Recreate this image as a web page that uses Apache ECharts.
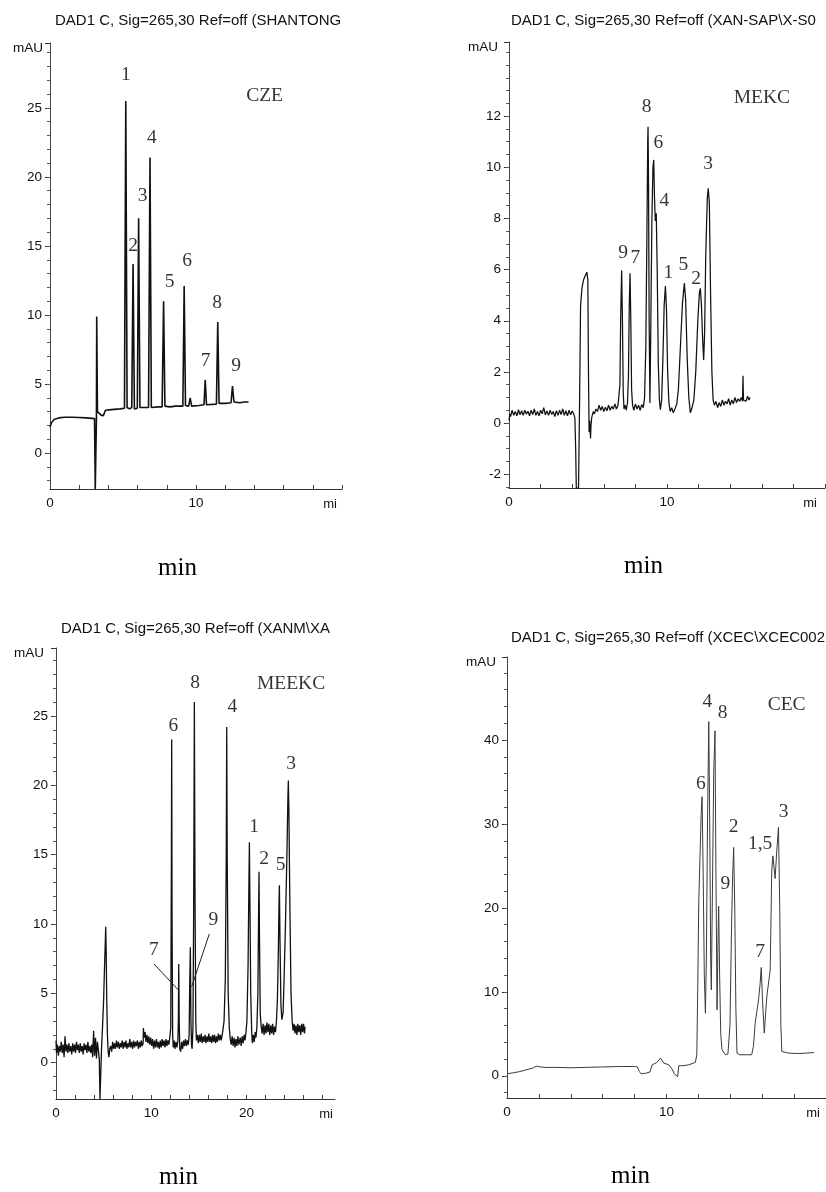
<!DOCTYPE html>
<html>
<head>
<meta charset="utf-8">
<title>DAD1 C, Sig=265,30</title>
<style>
  body { margin:0; background:#fff; }
  #main { width:826px; height:1192px; }
</style>
</head>
<body>
<div id="main"></div>
<script src="https://cdn.jsdelivr.net/npm/echarts@6/dist/echarts.min.js"></script>
<script>
// ---- data (time in min, signal in mAU) ----
var czeTrace = [[0,1.9],[0.1,2.2],[0.3,2.45],[0.6,2.55],[1,2.6],[1.5,2.6],[2,2.58],[2.5,2.55],[3.05,2.5],[3.1,-2.6],[3.15,-2.6],[3.18,2.5],
  [3.2,9.9],[3.25,3.0],[3.35,3.1],[3.5,2.75],[3.65,2.7],[3.8,3.1],[4.2,3.15],[4.8,3.2],[5.1,3.25],[5.19,25.5],[5.28,3.3],[5.45,3.2],
  [5.6,3.3],[5.69,13.7],[5.78,3.2],[5.98,3.25],[6.07,17.0],[6.16,3.3],[6.75,3.3],[6.85,21.4],[6.94,3.3],[7.4,3.35],[7.68,3.35],
  [7.78,11.0],[7.87,3.4],[8.2,3.35],[8.6,3.4],[9.1,3.4],[9.19,12.1],[9.28,3.45],[9.5,3.4],[9.6,4.0],[9.7,3.4],[10.2,3.45],[10.55,3.5],
  [10.63,5.3],[10.72,3.5],[11.4,3.55],[11.49,9.5],[11.58,3.6],[12.0,3.6],[12.4,3.65],[12.5,4.85],[12.6,3.7],[13.0,3.65],[13.3,3.7],[13.6,3.7]];
var czeLabels = [['1',5.2,27.4],['2',5.7,15.0],['3',6.35,18.6],['4',6.97,22.8],['5',8.2,12.4],['6',9.4,13.9],['7',10.66,6.7],['8',11.45,10.9],['9',12.75,6.3],['CZE',14.7,25.9]];

var mekcTrace = [[0,0.1],[0.05,0.35],[0.1,0.25],[0.2,0.5],[0.3,0.3],[0.4,0.45],[0.5,0.28],[0.6,0.52],[0.7,0.32],[0.8,0.48],[0.9,0.3],
  [1.0,0.5],[1.1,0.35],[1.2,0.46],[1.3,0.28],[1.4,0.5],[1.5,0.33],[1.6,0.55],[1.7,0.3],[1.8,0.45],[1.9,0.28],[2.0,0.5],[2.1,0.36],
  [2.2,0.6],[2.3,0.32],[2.4,0.47],[2.5,0.3],[2.6,0.5],[2.7,0.34],[2.8,0.45],[2.9,0.25],[3.0,0.48],[3.1,0.3],[3.2,0.5],[3.3,0.33],
  [3.4,0.55],[3.5,0.3],[3.6,0.48],[3.7,0.28],[3.8,0.5],[3.9,0.32],[4.0,0.47],[4.1,0.35],[4.17,0.2],[4.22,-1],[4.26,-2.54],[4.4,-2.54],
  [4.47,1],[4.53,4.6],[4.62,5.3],[4.72,5.6],[4.85,5.8],[4.93,5.9],[4.99,5.6],[5.03,2],[5.07,-0.35],[5.1,0.1],[5.13,-0.3],[5.16,-0.6],
  [5.19,-0.1],[5.23,0.2],[5.28,0.25],[5.33,0.45],[5.4,0.35],[5.5,0.55],[5.6,0.45],[5.7,0.7],[5.8,0.5],[5.9,0.65],[6.0,0.45],[6.1,0.62],
  [6.2,0.48],[6.3,0.7],[6.4,0.5],[6.5,0.65],[6.6,0.55],[6.7,0.75],[6.8,0.55],[6.9,0.7],[6.97,0.65],
  [7.02,1.5],[7.07,4.2],[7.13,5.96],[7.18,4.0],[7.23,1.2],[7.28,0.55],[7.35,0.7],[7.42,0.5],[7.5,0.8],
  [7.56,1.8],[7.61,4.5],[7.66,5.86],[7.71,4.0],[7.76,1.3],[7.82,0.7],[7.9,0.5],[8.0,0.75],[8.1,0.55],[8.2,0.7],[8.3,0.5],[8.4,0.72],[8.5,0.6],
  [8.58,1.0],[8.66,3.0],[8.73,7.5],[8.78,11.0],[8.80,11.59],[8.83,9.5],[8.87,4],[8.92,0.78],[8.97,3.5],[9.04,7.8],[9.11,10.0],[9.16,10.29],
  [9.21,8.8],[9.26,7.9],[9.32,8.2],[9.38,6.0],[9.45,2.3],[9.52,0.9],[9.58,0.52],
  [9.66,0.9],[9.74,2.5],[9.82,4.6],[9.9,5.36],[9.97,4.4],[10.04,2.0],[10.12,0.8],[10.2,0.45],[10.3,0.6],[10.4,0.4],[10.5,0.55],[10.62,0.75],
  [10.72,1.3],[10.85,3.0],[10.98,4.7],[11.1,5.47],[11.18,4.8],[11.28,2.5],[11.38,1.0],[11.48,0.4],[11.58,0.6],[11.7,0.9],
  [11.82,2.0],[11.95,4.0],[12.05,5.1],[12.11,5.27],[12.18,4.6],[12.26,3.2],[12.32,2.47],[12.38,3.5],[12.45,6.5],[12.55,8.8],[12.61,9.18],
  [12.68,8.6],[12.76,5.0],[12.84,2.0],[12.92,0.9],[13.0,0.7],[13.1,0.85],[13.2,0.6],[13.3,0.8],[13.4,0.65],[13.5,0.9],[13.6,0.7],
  [13.7,0.85],[13.8,0.75],[13.9,0.95],[14.0,0.7],[14.1,0.9],[14.2,0.75],[14.3,1.0],[14.4,0.8],[14.5,0.95],[14.6,0.85],[14.7,1.0],
  [14.78,0.85],[14.81,1.85],[14.84,0.9],[14.9,0.95],[15.0,0.85],[15.1,1.05],[15.2,0.9],[15.25,1.0]];
var mekcLabels = [['8',8.71,12.37],['6',9.45,10.94],['4',9.83,8.7],['9',7.23,6.64],['7',8.0,6.45],['1',10.08,5.86],['5',11.03,6.18],['2',11.84,5.64],['3',12.61,10.13],['MEKC',16.0,12.73]];

var meekcTrace = [[0,1.6],[0.05,0.7],[0.15,1.3],[0.25,0.5],[0.35,1.2],[0.45,0.8],[0.55,1.5],[0.65,0.7],[0.75,1.3],[0.85,0.4],[0.95,1.9],
  [1.05,0.8],[1.15,1.3],[1.25,0.7],[1.35,1.4],[1.45,0.8],[1.55,1.2],[1.65,0.6],[1.75,1.4],[1.85,0.8],[1.95,1.3],[2.05,0.7],[2.15,1.5],
  [2.25,0.9],[2.35,1.3],[2.45,0.7],[2.55,1.4],[2.65,0.8],[2.75,1.2],[2.85,0.6],[2.95,1.4],[3.05,0.9],[3.15,1.3],[3.25,0.7],[3.35,1.5],
  [3.45,0.8],[3.55,1.2],[3.65,0.7],[3.75,1.3],[3.85,0.4],[3.95,2.3],[4.05,0.5],[4.15,1.8],[4.25,0.3],[4.35,1.5],[4.45,0.9],[4.55,0.2],
  [4.62,-2.62],[4.7,-2.62],[4.78,1.0],[4.88,2.5],[5.0,4.5],[5.1,7.0],[5.17,8.5],[5.22,9.8],[5.27,8.0],[5.33,4.5],[5.4,2.0],[5.48,0.8],
  [5.55,0.4],[5.65,1.0],[5.75,1.2],[5.85,0.8],[5.95,1.5],[6.05,1.0],[6.15,1.4],[6.25,1.0],[6.35,1.6],[6.45,1.1],[6.55,1.5],[6.65,1.0],
  [6.75,1.4],[6.85,1.1],[6.95,1.6],[7.05,1.0],[7.15,1.5],[7.25,1.1],[7.35,1.6],[7.45,1.0],[7.55,1.4],[7.65,1.1],[7.75,1.7],[7.85,1.1],
  [7.95,1.5],[8.05,1.0],[8.15,1.6],[8.25,1.1],[8.35,1.5],[8.45,1.2],[8.55,1.6],[8.65,1.0],[8.75,1.5],[8.85,1.1],[8.95,1.6],[9.05,1.2],
  [9.15,1.4],[9.18,2.5],[9.25,1.8],[9.35,2.2],[9.45,1.5],[9.55,2.0],[9.65,1.4],[9.75,1.9],[9.85,1.3],[9.95,1.8],[10.05,1.2],[10.15,1.7],
  [10.25,1.0],[10.35,1.6],[10.45,1.1],[10.55,1.7],[10.65,1.1],[10.75,1.5],[10.85,1.0],[10.95,1.6],[11.05,1.1],[11.15,1.7],[11.25,1.2],
  [11.35,1.6],[11.45,1.1],[11.55,1.7],[11.65,1.2],[11.75,1.6],[11.85,1.3],[11.95,1.8],
  [12.05,2.5],[12.12,15],[12.15,23.3],[12.19,10],[12.25,2.0],[12.32,1.1],[12.4,1.6],[12.5,1.0],[12.6,1.5],[12.7,1.1],[12.8,1.6],
  [12.85,3],[12.89,7.12],[12.94,3],[13.0,1.0],[13.1,0.8],[13.2,1.5],[13.3,1.0],[13.4,1.6],[13.5,1.2],[13.6,1.7],[13.7,1.2],[13.8,1.6],
  [13.9,1.3],[13.98,2.0],[14.05,6],[14.11,8.32],[14.17,3],[14.24,1.2],[14.3,1.0],[14.38,2.5],[14.45,10],[14.53,26.0],[14.6,12],[14.68,3],
  [14.75,1.6],[14.85,2.0],[14.95,1.4],[15.05,2.0],[15.15,1.5],[15.25,2.1],[15.35,1.4],[15.45,1.9],[15.55,1.5],[15.65,2.0],[15.75,1.4],
  [15.85,1.9],[15.95,1.5],[16.05,2.1],[16.15,1.5],[16.25,1.9],[16.35,1.4],[16.45,2.0],[16.55,1.5],[16.65,2.0],[16.75,1.4],[16.85,1.9],
  [16.95,1.5],[17.05,2.1],[17.15,1.6],[17.25,2.0],[17.35,1.6],[17.5,2.2],[17.65,3.0],[17.78,6],[17.88,15],[17.93,24.2],[17.98,15],
  [18.08,5],[18.2,2.5],[18.3,1.7],[18.4,1.3],[18.5,1.9],[18.6,1.2],[18.7,1.8],[18.8,1.1],[18.9,1.7],[19.0,1.2],[19.1,1.9],[19.2,1.3],
  [19.35,1.8],[19.45,1.2],[19.55,1.9],[19.65,1.4],[19.75,2.0],[19.85,1.6],[19.95,2.2],[20.05,3],[20.17,7],[20.26,13],[20.31,15.9],
  [20.36,12],[20.45,5],[20.55,2.3],[20.62,1.4],[20.72,2.0],[20.82,1.5],[20.92,2.2],[21.0,1.8],[21.1,2.6],[21.2,5],[21.28,11],[21.32,13.76],
  [21.37,9],[21.45,3.5],[21.55,2.6],[21.65,2.1],[21.75,2.8],[21.85,2.0],[21.95,2.7],[22.05,2.1],[22.15,2.9],[22.25,2.2],[22.35,2.8],
  [22.45,2.0],[22.55,2.7],[22.65,2.1],[22.75,2.8],[22.85,2.0],[22.95,2.6],[23.05,2.2],[23.15,3.0],[23.25,4.5],[23.35,8],[23.42,11.5],
  [23.46,12.8],[23.52,9],[23.62,4.2],[23.72,3.1],[23.77,2.96],[23.85,3.6],[23.95,6],[24.1,10],[24.25,15],[24.35,19],[24.4,20.35],
  [24.46,18],[24.55,12],[24.68,5],[24.8,3.0],[24.9,2.3],[25.0,2.8],[25.1,2.1],[25.2,2.7],[25.3,2.0],[25.4,2.8],[25.5,2.2],[25.6,2.7],
  [25.7,2.0],[25.8,2.8],[25.9,2.2],[26.0,2.8],[26.1,2.1],[26.15,2.6]];
var meekcLabels = [['6',12.32,24.27],['8',14.6,27.4],['4',18.52,25.67],['3',24.68,21.54],['1',20.8,17.0],['2',21.85,14.67],['5',23.6,14.23],
  ['7',10.29,8.13],['9',16.52,10.29],['MEEKC',24.68,27.34]];
var meekcLeader7 = [[10.29,7.12],[12.85,5.24]];
var meekcLeader9 = [[16.1,9.28],[14.25,5.48]];

var cecTrace = [[0,0.24],[0.4,0.35],[0.8,0.5],[1.19,0.7],[1.6,0.9],[1.85,1.15],[1.95,1.2],[2.1,1.05],[2.46,0.99],[3,1.0],[4,0.95],[5,1.0],
  [6,1.05],[7,1.1],[8,1.1],[8.17,1.05],[8.3,0.5],[8.4,0.24],[8.7,0.3],[8.96,0.45],[9.1,1.3],[9.21,1.5],[9.4,1.6],[9.63,2.1],[9.83,1.5],
  [10.0,1.4],[10.15,1.3],[10.35,0.8],[10.5,0.2],[10.6,0.0],[10.7,-0.1],[10.74,0.1],[10.77,1.2],[11.0,1.2],[11.4,1.3],[11.81,1.6],
  [11.9,2.5],[11.97,12],[12.02,20.6],[12.1,26],[12.17,31],[12.23,33.25],[12.3,24],[12.37,12],[12.44,7.46],[12.5,14],[12.57,30],
  [12.65,42.2],[12.71,30],[12.77,14],[12.81,10.24],[12.88,22],[12.96,36],[13.04,41.1],[13.1,24],[13.17,7.86],[13.22,15],[13.27,20.2],
  [13.33,12],[13.4,5],[13.48,3.1],[13.69,2.5],[13.85,2.6],[13.98,6],[14.08,18],[14.15,24],[14.21,27.2],[14.28,20],[14.35,8],[14.42,2.7],
  [14.6,2.5],[15.0,2.5],[15.34,2.5],[15.45,3.5],[15.56,6.27],[15.77,9.05],[15.87,11],[15.94,12.9],[16.02,9],[16.13,5.08],[16.2,7],
  [16.29,9.44],[16.5,12.6],[16.6,24.5],[16.67,26.2],[16.81,23.5],[16.92,27],[17.02,29.6],[17.1,20],[17.17,6],[17.23,2.9],[17.65,2.7],
  [18.2,2.65],[18.8,2.7],[19.25,2.77]];
var cecLabels = [['6',12.15,34.8],['4',12.56,44.56],['8',13.52,43.25],['2',14.21,29.6],['1,5',15.87,27.6],['3',17.34,31.5],['9',13.69,22.9],
  ['7',15.87,14.8],['CEC',17.53,44.2]];

var titles = ['DAD1 C, Sig=265,30 Ref=off (SHANTONG', 'DAD1 C, Sig=265,30 Ref=off (XAN-SAP\\X-S0',
  'DAD1 C, Sig=265,30 Ref=off (XANM\\XA', 'DAD1 C, Sig=265,30 Ref=off (XCEC\\XCEC002'];
var yLabelValues = [[0,5,10,15,20,25], [-2,0,2,4,6,8,10,12], [0,5,10,15,20,25], [0,10,20,30,40]];
var xLabelValues = [[0,10], [0,10], [0,10,20], [0,10]];

// ---- layout ----
var panels = [
  {left:50, top:43, width:292, height:446, xMax:20, yMin:-2.6, yMax:29.7, minorStep:1, titleX:55, titleY:13, minX:158, minY:556, miGap:-5, mauPad:7},
  {left:509, top:42, width:316, height:446, xMax:20, yMin:-2.54, yMax:14.9, minorStep:0.5, titleX:511, titleY:13, minX:624, minY:554, miGap:-8, mauPad:11},
  {left:56, top:648, width:279, height:451, xMax:29.3, yMin:-2.62, yMax:29.9, minorStep:1, titleX:61, titleY:621, minX:159, minY:1165, miGap:-2, mauPad:12},
  {left:507, top:657, width:319, height:441, xMax:20, yMin:-2.65, yMax:49.9, minorStep:2, titleX:511, titleY:630, minX:611, minY:1164, miGap:-6, mauPad:11}
];
var traces = [czeTrace, mekcTrace, meekcTrace, cecTrace];
var peakLabels = [czeLabels, mekcLabels, meekcLabels, cecLabels];
var lineWidths = [1.6, 1.25, 1.3, 1.0];
var lineColors = ['#111', '#111', '#111', '#3a3a3a'];

var sans = 'Liberation Sans', serif = 'Liberation Serif';
var grid = [], xAxis = [], yAxis = [], series = [], title = [];

panels.forEach(function (p, i) {
  grid.push({left:p.left, top:p.top, width:p.width, height:p.height});

  var xTicks = [];
  for (var t = 0; t <= p.xMax; t += 2) xTicks.push(t);
  xAxis.push({
    type:'value', gridIndex:i, min:0, max:p.xMax, position:'bottom',
    name:'mi', nameLocation:'end', nameGap:p.miGap,
    nameTextStyle:{fontFamily:sans, fontSize:13, color:'#111', align:'right', verticalAlign:'top', padding:[9,0,0,0]},
    axisLine:{onZero:false, lineStyle:{color:'#333', width:1}},
    axisTick:{inside:true, length:4, customValues:xTicks, lineStyle:{color:'#444'}},
    axisLabel:{customValues:xLabelValues[i], fontFamily:sans, fontSize:13.5, color:'#111', margin:7},
    splitLine:{show:false}
  });

  var majors = yLabelValues[i].concat([p.yMax]);
  var minors = [];
  var start = Math.ceil(p.yMin / p.minorStep) * p.minorStep;
  for (var v = start; v < p.yMax; v += p.minorStep) minors.push(Math.round(v * 10) / 10);
  yAxis.push({
    type:'value', gridIndex:i, min:p.yMin, max:p.yMax, position:'left',
    name:'mAU', nameLocation:'end', nameGap:-5,
    nameTextStyle:{fontFamily:sans, fontSize:13.5, color:'#111', align:'right', verticalAlign:'middle', padding:[0,p.mauPad,0,0]},
    axisLine:{show:true, onZero:false, lineStyle:{color:'#444', width:1}},
    axisTick:{length:5, customValues:majors, lineStyle:{color:'#333'}},
    axisLabel:{customValues:yLabelValues[i], fontFamily:sans, fontSize:13.5, color:'#111', margin:8},
    splitLine:{show:false}
  });
  yAxis.push({
    type:'value', gridIndex:i, min:p.yMin, max:p.yMax, position:'left',
    axisLine:{show:false, onZero:false},
    axisTick:{length:3, customValues:minors, lineStyle:{color:'#555'}},
    axisLabel:{show:false},
    splitLine:{show:false}
  });

  series.push({
    type:'line', xAxisIndex:i, yAxisIndex:2 * i, data:traces[i],
    showSymbol:false, silent:true, animation:false,
    lineStyle:{color:lineColors[i], width:lineWidths[i]}
  });
  series.push({
    type:'scatter', xAxisIndex:i, yAxisIndex:2 * i, silent:true, animation:false,
    symbolSize:1, itemStyle:{color:'rgba(0,0,0,0)'},
    data:peakLabels[i].map(function (d) { return {name:d[0], value:[d[1], d[2]]}; }),
    label:{show:true, position:'inside', formatter:'{b}', fontFamily:serif, fontSize:19.5, color:'#000'}
  });

  title.push({text:titles[i], left:p.titleX, top:p.titleY, padding:0,
    textStyle:{fontFamily:sans, fontSize:15, fontWeight:'normal', color:'#111'}});
  title.push({text:'min', left:p.minX, top:p.minY, padding:0,
    textStyle:{fontFamily:serif, fontSize:25, fontWeight:'normal', color:'#000'}});
});

// leader lines for peaks 7 and 9 in the MEEKC panel
[meekcLeader7, meekcLeader9].forEach(function (seg) {
  series.push({type:'line', xAxisIndex:2, yAxisIndex:4, data:seg, showSymbol:false, silent:true, animation:false,
    lineStyle:{color:'#222', width:1}});
});

var myChart = echarts.init(document.getElementById('main'));
myChart.setOption({
  backgroundColor:'#fff',
  animation:false,
  title:title,
  grid:grid,
  xAxis:xAxis,
  yAxis:yAxis,
  series:series
});
</script>
</body>
</html>
